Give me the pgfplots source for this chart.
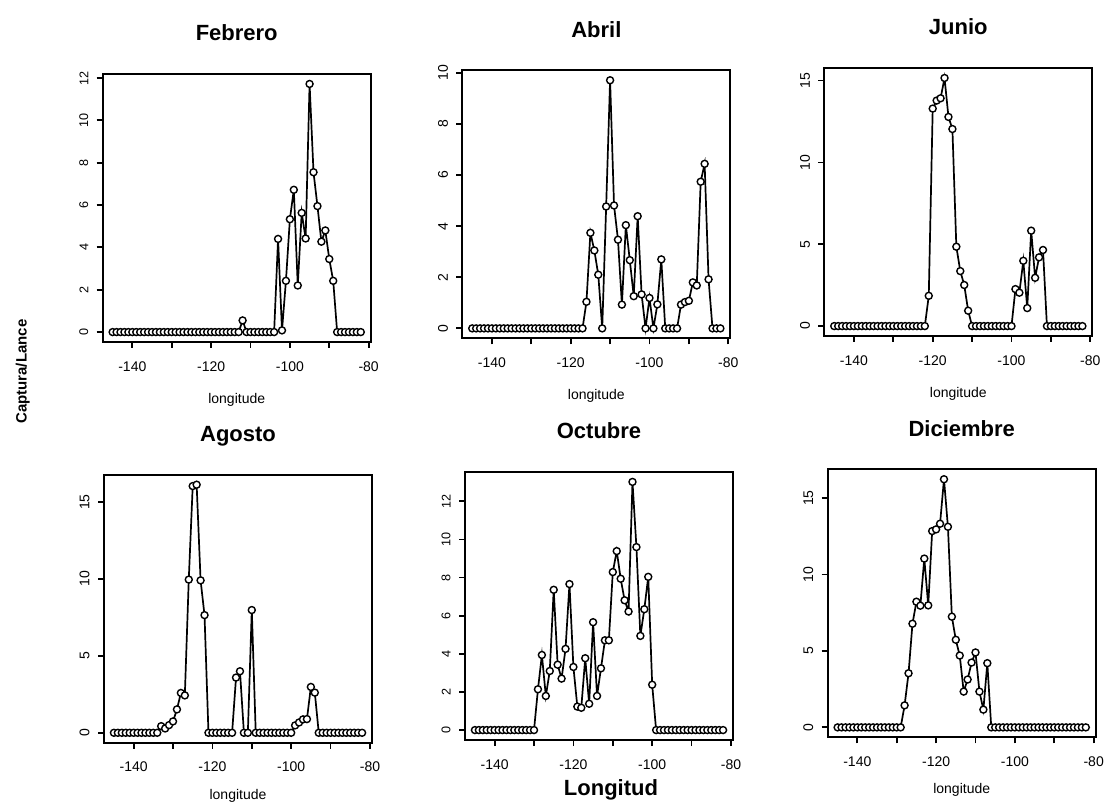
\documentclass[border=0pt]{standalone}
\usepackage{fontspec}
\setmainfont{Liberation Sans}
\usepackage{pgfplots}
\usepackage{pgfplotstable}
\pgfplotsset{compat=1.18}

% captura por lance vs longitud, un bloque por mes
\pgfplotstableread[row sep=\\]{
lon val\\
-145 0\\-144 0\\-143 0\\-142 0\\-141 0\\-140 0\\-139 0\\-138 0\\-137 0\\-136 0\\
-135 0\\-134 0\\-133 0\\-132 0\\-131 0\\-130 0\\-129 0\\-128 0\\-127 0\\-126 0\\
-125 0\\-124 0\\-123 0\\-122 0\\-121 0\\-120 0\\-119 0\\-118 0\\-117 0\\-116 0\\
-115 0\\-114 0\\-113 0\\-112 0.55\\-111 0\\-110 0\\-109 0\\-108 0\\-107 0\\-106 0\\
-105 0\\-104 0\\-103 4.40\\-102 0.08\\-101 2.42\\-100 5.33\\-99 6.72\\-98 2.20\\-97 5.63\\-96 4.42\\
-95 11.72\\-94 7.55\\-93 5.95\\-92 4.27\\-91 4.80\\-90 3.45\\-89 2.42\\-88 0\\-87 0\\-86 0\\
-85 0\\-84 0\\-83 0\\-82 0\\
}\feb

\pgfplotstableread[row sep=\\]{
lon val\\
-145 0\\-144 0\\-143 0\\-142 0\\-141 0\\-140 0\\-139 0\\-138 0\\-137 0\\-136 0\\
-135 0\\-134 0\\-133 0\\-132 0\\-131 0\\-130 0\\-129 0\\-128 0\\-127 0\\-126 0\\
-125 0\\-124 0\\-123 0\\-122 0\\-121 0\\-120 0\\-119 0\\-118 0\\-117 0\\-116 1.04\\
-115 3.74\\-114 3.05\\-113 2.10\\-112 0\\-111 4.77\\-110 9.71\\-109 4.81\\-108 3.47\\-107 0.93\\-106 4.04\\
-105 2.67\\-104 1.26\\-103 4.39\\-102 1.33\\-101 0\\-100 1.19\\-99 0\\-98 0.94\\-97 2.70\\-96 0\\
-95 0\\-94 0\\-93 0\\-92 0.93\\-91 1.03\\-90 1.08\\-89 1.80\\-88 1.68\\-87 5.74\\-86 6.44\\
-85 1.92\\-84 0\\-83 0\\-82 0\\
}\abr

\pgfplotstableread[row sep=\\]{
lon val\\
-145 0\\-144 0\\-143 0\\-142 0\\-141 0\\-140 0\\-139 0\\-138 0\\-137 0\\-136 0\\
-135 0\\-134 0\\-133 0\\-132 0\\-131 0\\-130 0\\-129 0\\-128 0\\-127 0\\-126 0\\
-125 0\\-124 0\\-123 0\\-122 0\\-121 1.85\\-120 13.29\\-119 13.78\\-118 13.92\\-117 15.16\\-116 12.78\\
-115 12.04\\-114 4.85\\-113 3.36\\-112 2.51\\-111 0.94\\-110 0\\-109 0\\-108 0\\-107 0\\-106 0\\
-105 0\\-104 0\\-103 0\\-102 0\\-101 0\\-100 0\\-99 2.26\\-98 2.04\\-97 3.99\\-96 1.10\\
-95 5.83\\-94 2.95\\-93 4.20\\-92 4.65\\-91 0\\-90 0\\-89 0\\-88 0\\-87 0\\-86 0\\
-85 0\\-84 0\\-83 0\\-82 0\\
}\jun

\pgfplotstableread[row sep=\\]{
lon val\\
-145 0\\-144 0\\-143 0\\-142 0\\-141 0\\-140 0\\-139 0\\-138 0\\-137 0\\-136 0\\
-135 0\\-134 0\\-133 0.43\\-132 0.28\\-131 0.50\\-130 0.74\\-129 1.52\\-128 2.59\\-127 2.43\\-126 9.96\\
-125 16.04\\-124 16.13\\-123 9.91\\-122 7.65\\-121 0\\-120 0\\-119 0\\-118 0\\-117 0\\-116 0\\
-115 0\\-114 3.59\\-113 4.00\\-112 0\\-111 0\\-110 7.98\\-109 0\\-108 0\\-107 0\\-106 0\\
-105 0\\-104 0\\-103 0\\-102 0\\-101 0\\-100 0\\-99 0.48\\-98 0.67\\-97 0.87\\-96 0.89\\
-95 2.98\\-94 2.61\\-93 0\\-92 0\\-91 0\\-90 0\\-89 0\\-88 0\\-87 0\\-86 0\\
-85 0\\-84 0\\-83 0\\-82 0\\
}\ago

\pgfplotstableread[row sep=\\]{
lon val\\
-145 0\\-144 0\\-143 0\\-142 0\\-141 0\\-140 0\\-139 0\\-138 0\\-137 0\\-136 0\\
-135 0\\-134 0\\-133 0\\-132 0\\-131 0\\-130 0\\-129 2.14\\-128 3.94\\-127 1.79\\-126 3.10\\
-125 7.36\\-124 3.43\\-123 2.70\\-122 4.26\\-121 7.66\\-120 3.31\\-119 1.23\\-118 1.17\\-117 3.77\\-116 1.38\\
-115 5.66\\-114 1.79\\-113 3.24\\-112 4.71\\-111 4.71\\-110 8.29\\-109 9.39\\-108 7.94\\-107 6.81\\-106 6.22\\
-105 13.02\\-104 9.60\\-103 4.94\\-102 6.34\\-101 8.04\\-100 2.38\\-99 0\\-98 0\\-97 0\\-96 0\\
-95 0\\-94 0\\-93 0\\-92 0\\-91 0\\-90 0\\-89 0\\-88 0\\-87 0\\-86 0\\
-85 0\\-84 0\\-83 0\\-82 0\\
}\oct

\pgfplotstableread[row sep=\\]{
lon val\\
-145 0\\-144 0\\-143 0\\-142 0\\-141 0\\-140 0\\-139 0\\-138 0\\-137 0\\-136 0\\
-135 0\\-134 0\\-133 0\\-132 0\\-131 0\\-130 0\\-129 0\\-128 1.44\\-127 3.54\\-126 6.78\\
-125 8.22\\-124 7.96\\-123 11.04\\-122 7.98\\-121 12.84\\-120 12.95\\-119 13.32\\-118 16.23\\-117 13.12\\-116 7.24\\
-115 5.73\\-114 4.70\\-113 2.34\\-112 3.13\\-111 4.24\\-110 4.90\\-109 2.34\\-108 1.16\\-107 4.20\\-106 0\\
-105 0\\-104 0\\-103 0\\-102 0\\-101 0\\-100 0\\-99 0\\-98 0\\-97 0\\-96 0\\
-95 0\\-94 0\\-93 0\\-92 0\\-91 0\\-90 0\\-89 0\\-88 0\\-87 0\\-86 0\\
-85 0\\-84 0\\-83 0\\-82 0\\
}\dic

\pgfplotsset{
  panel/.style={
    scale only axis, width=134pt, height=134pt,
    anchor=south west,
    xmin=-147.52, xmax=-79.48,
    xtick={-140,-130,...,-80},
    xticklabels={-140,,-120,,-100,,-80},
    tick pos=left, tick align=outside,
    major tick length=3pt,
    axis line style={line width=0.9pt},
    every tick/.style={black, line width=0.9pt},
    xticklabel style={font=\fontsize{7}{8}\selectfont, inner sep=0pt, anchor=north},
    xticklabel shift=6.5pt,
    yticklabel style={rotate=90, anchor=south, inner sep=0pt, font=\fontsize{7}{8}\selectfont},
    yticklabel shift=4pt,
    /pgf/number format/assume math mode=true,
    title style={at={(axis description cs:0.5,1)}, anchor=base, yshift=10.5pt,
      font=\bfseries\fontsize{11}{13}\selectfont},
    xlabel=longitude,
    xlabel style={at={(axis description cs:0.5,0)}, anchor=center, yshift=-29pt,
      font=\fontsize{7}{8}\selectfont},
  },
  curve/.style={black, line width=0.85pt, mark=*, mark size=1.75pt,
    mark options={fill=white, draw=black, line width=0.7pt}},
}

\begin{document}
\begin{tikzpicture}
\useasboundingbox (0,0) rectangle (553.5pt,401.5pt);

\begin{axis}[panel, at={(51.35pt,230.5pt)}, title=Febrero,
  ymin=-0.469, ymax=12.19, ytick={0,2,...,12},
  yticklabel style={font=\fontsize{6.3}{7}\selectfont}]
\addplot[curve] table[x=lon,y=val]{\feb};
\end{axis}

\begin{axis}[panel, at={(231.15pt,232.35pt)}, title=Abril,
  ymin=-0.388, ymax=10.10, ytick={0,2,...,10}]
\addplot[curve] table[x=lon,y=val]{\abr};
\end{axis}

\begin{axis}[panel, at={(412.15pt,233.5pt)}, title=Junio,
  ymin=-0.606, ymax=15.77, ytick={0,5,10,15}]
\addplot[curve] table[x=lon,y=val]{\jun};
\end{axis}

\begin{axis}[panel, at={(52pt,30.15pt)}, title=Agosto,
  ymin=-0.645, ymax=16.78, ytick={0,5,10,15},
  xlabel style={yshift=2.5pt}]
\addplot[curve] table[x=lon,y=val]{\ago};
\end{axis}

\begin{axis}[panel, at={(232.5pt,31.5pt)}, title=Octubre,
  ymin=-0.521, ymax=13.54, ytick={0,2,...,12},
  yticklabel style={font=\fontsize{6.3}{7}\selectfont},
  xlabel=Longitud,
  xlabel style={yshift=4pt, xshift=6pt, font=\bfseries\fontsize{11}{13}\selectfont}]
\addplot[curve] table[x=lon,y=val]{\oct};
\end{axis}

\begin{axis}[panel, at={(413.85pt,32.85pt)}, title=Diciembre,
  ymin=-0.649, ymax=16.88, ytick={0,5,10,15},
  xlabel style={yshift=2.5pt}]
\addplot[curve] table[x=lon,y=val]{\dic};
\end{axis}

\node[rotate=90, font=\bfseries\fontsize{7.5}{9}\selectfont] at (11.35pt,215.65pt) {Captura/Lance};
\end{tikzpicture}
\end{document}
